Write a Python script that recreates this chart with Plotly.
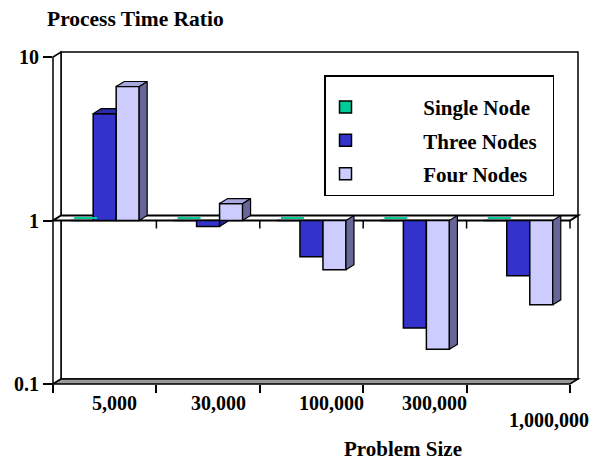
import math
import plotly.graph_objects as go

# ---------------- data ----------------
categories = ["5,000", "30,000", "100,000", "300,000", "1,000,000"]
series_names = ["Single Node", "Three Nodes", "Four Nodes"]
single_node = [1, 1, 1, 1, 1]
three_nodes = [4.5, 0.92, 0.60, 0.22, 0.46]
four_nodes = [6.6, 1.27, 0.50, 0.163, 0.305]
y_tick_vals = [0.1, 1, 10]
y_tick_text = ["0.1", "1", "10"]
y_title = "Process Time Ratio"
x_title = "Problem Size"

# ---------------- style ----------------
FONT = "Liberation Serif, Times New Roman, serif"
COLORS = ["#00CC99", "#3333CC", "#CCCCFF"]
TOP_COLORS = ["#00AA80", "#2B2BAD", "#A8A8DC"]
SIDE_COLORS = ["#008866", "#22228A", "#666699"]
BAR_W = 0.2225
OFFSETS = [-0.334, -0.1115, 0.111]
UNIT_PX = 103.4          # px per category
DECADE_PX = 163.5        # px per decade
DXU = 8 / UNIT_PX        # 3-D depth (x, in category units)
DY_LOG = 5 / DECADE_PX   # 3-D depth (y, in decades)
K = 10 ** DY_LOG
LABEL_NUDGE = [(10, -19), (10, -19), (20, -19), (20, -19), (31, -36)]

n = len(categories)
X_RANGE = [-0.5, n - 0.5 + DXU]
Y_RANGE = [-1, 1 + DY_LOG]
W = X_RANGE[1] - X_RANGE[0]
H = Y_RANGE[1] - Y_RANGE[0]


def px_(x):
    return (x - X_RANGE[0]) / W


def py_(v):
    return (math.log10(v) - Y_RANGE[0]) / H


def path(points):
    return "M " + " L ".join(f"{px_(x):.5f},{py_(v):.5f}" for x, v in points) + " Z"


fig = go.Figure()

series = [single_node, three_nodes, four_nodes]
# front faces as real bars (base at 1)
for s, (name, vals) in enumerate(zip(series_names, series)):
    fig.add_trace(go.Bar(
        x=list(range(n)), y=[v - 1 for v in vals], base=[1] * n,
        width=BAR_W, offset=OFFSETS[s],
        marker=dict(color=COLORS[s], line=dict(color="black", width=1.5)),
        name="\u00a0" * 11 + f"<b>{name}</b>" + "\u00a0" * 2, legendgroup=name,
        customdata=vals, hovertemplate="%{customdata}<extra>" + name + "</extra>",
    ))


def poly_trace(polys, fill):
    xs, ys = [], []
    for poly in polys:
        for x, v in poly:
            xs.append(x)
            ys.append(v)
        xs.append(poly[0][0])
        ys.append(poly[0][1])
        xs.append(None)
        ys.append(None)
    return go.Scatter(x=xs, y=ys, mode="lines", fill="toself", fillcolor=fill,
                      line=dict(color="black", width=1.2), hoverinfo="skip",
                      showlegend=False)


# green (value 1) top faces seen as a thin line inside the "1" plane
gx, gy = [], []
for i, v in enumerate(single_node):
    x0 = i + OFFSETS[0]
    gx += [x0 + DXU / 2, x0 + BAR_W + DXU / 2, None]
    gy += [v * K ** 0.5, v * K ** 0.5, None]
fig.add_trace(go.Scatter(x=gx, y=gy, mode="lines", line=dict(color=COLORS[0], width=2),
                         hoverinfo="skip", showlegend=False))

# blue side faces (only where not hidden by the lavender bar)
blue_side, blue_top = [], []
for i, (b, l) in enumerate(zip(three_nodes, four_nodes)):
    x0 = i + OFFSETS[1]
    x1 = x0 + BAR_W
    lb, ll = math.log10(b), math.log10(l)
    hidden = (lb * ll > 0) and abs(ll) >= abs(lb)
    if not hidden:
        if b < 1:
            blue_side.append([(x1, 1), (x1, b), (x1 + DXU, b * K), (x1 + DXU, 1)])
        else:
            blue_side.append([(x1, 1), (x1, b), (x1 + DXU, b * K), (x1 + DXU, K)])
    if b > 1:
        if l >= b:
            blue_top.append([(x0, b), (x1, b), (x1, b * K), (x0 + DXU, b * K)])
        else:
            blue_top.append([(x0, b), (x1, b), (x1 + DXU, b * K), (x0 + DXU, b * K)])
if blue_side:
    fig.add_trace(poly_trace(blue_side, SIDE_COLORS[1]))
if blue_top:
    fig.add_trace(poly_trace(blue_top, TOP_COLORS[1]))

lav_side, lav_top = [], []
for i, l in enumerate(four_nodes):
    x0 = i + OFFSETS[2]
    x1 = x0 + BAR_W
    lav_side.append([(x1, 1), (x1, l), (x1 + DXU, l * K), (x1 + DXU, K)])
    if l > 1:
        lav_top.append([(x0, l), (x1, l), (x1 + DXU, l * K), (x0 + DXU, l * K)])
fig.add_trace(poly_trace(lav_side, SIDE_COLORS[2]))
fig.add_trace(poly_trace(lav_top, TOP_COLORS[2]))

# ---------------- frame (3-D walls) ----------------
xl, xr = X_RANGE[0], n - 0.5
lo, hi = 10 ** Y_RANGE[0], 10 ** (Y_RANGE[1] - DY_LOG)
shapes = []
line = dict(color="black", width=1.5)
# back wall
shapes.append(dict(type="path", xref="paper", yref="paper", layer="below",
                   path=path([(xl + DXU, lo * K), (xr + DXU, lo * K), (xr + DXU, hi * K), (xl + DXU, hi * K)]),
                   fillcolor="white", line=line))
# left wall
shapes.append(dict(type="path", xref="paper", yref="paper", layer="below",
                   path=path([(xl, lo), (xl, hi), (xl + DXU, hi * K), (xl + DXU, lo * K)]),
                   fillcolor="white", line=line))
# floor
shapes.append(dict(type="path", xref="paper", yref="paper", layer="below",
                   path=path([(xl, lo), (xr, lo), (xr + DXU, lo * K), (xl + DXU, lo * K)]),
                   fillcolor="#999999", line=line))
# plane at 1
shapes.append(dict(type="path", xref="paper", yref="paper", layer="below",
                   path=path([(xl, 1), (xr, 1), (xr + DXU, K), (xl + DXU, K)]),
                   fillcolor="white", line=dict(color="black", width=2)))
# ticks below the plane at 1
for i in range(n):
    xb = px_(i + 0.5)
    shapes.append(dict(type="line", xref="paper", yref="paper", layer="below",
                       x0=xb, x1=xb, y0=py_(1), y1=py_(1) - 8 / 332,
                       line=dict(color="black", width=1.5)))

annotations = []
for i, cat in enumerate(categories):
    dx, dy = LABEL_NUDGE[i]
    annotations.append(dict(x=i, y=0, xref="x", yref="paper", text=f"<b>{cat}</b>",
                            showarrow=False, xanchor="center", yanchor="middle",
                            xshift=dx, yshift=dy,
                            font=dict(family=FONT, size=20, color="black")))
annotations.append(dict(x=px_(2.5) + 40 / 525, y=0, xref="paper", yref="paper",
                        text=f"<b>{x_title}</b>", showarrow=False,
                        xanchor="center", yanchor="middle", yshift=-65,
                        font=dict(family=FONT, size=21, color="black")))

fig.update_layout(
    width=594, height=462,
    margin=dict(l=53, r=16, t=52, b=78),
    paper_bgcolor="white", plot_bgcolor="white",
    barmode="overlay",
    font=dict(family=FONT, color="black"),
    title=dict(text=f"<b>{y_title}</b>", x=47 / 594, xref="container", xanchor="left",
               y=1 - 18 / 462, yref="container", yanchor="middle",
               font=dict(family=FONT, size=21.5, color="black")),
    xaxis=dict(range=X_RANGE, showgrid=False, zeroline=False, showline=False,
               tickvals=[i - 0.5 for i in range(n + 1)], showticklabels=False,
               ticks="outside", ticklen=8, tickwidth=1.5, tickcolor="black"),
    yaxis=dict(type="log", range=Y_RANGE, showgrid=False, zeroline=False, showline=False,
               tickvals=y_tick_vals, ticktext=[f"<b>{t}</b>" for t in y_tick_text],
               ticks="outside", ticklen=9, tickwidth=1.5, tickcolor="black",
               tickfont=dict(family=FONT, size=20, color="black")),
    legend=dict(x=(324 - 53) / 525, y=(384 - 75) / 332, xanchor="left", yanchor="top",
                bgcolor="white", bordercolor="black", borderwidth=1.5,
                font=dict(family=FONT, size=21, color="black"),
                title=dict(text="\u00a0", font=dict(size=8)),
                tracegroupgap=3, traceorder="grouped"),
    shapes=shapes, annotations=annotations,
)

fig.write_html("out.html", config={"displayModeBar": False},
               post_script="document.body.style.margin='0';document.body.style.padding='0';")
